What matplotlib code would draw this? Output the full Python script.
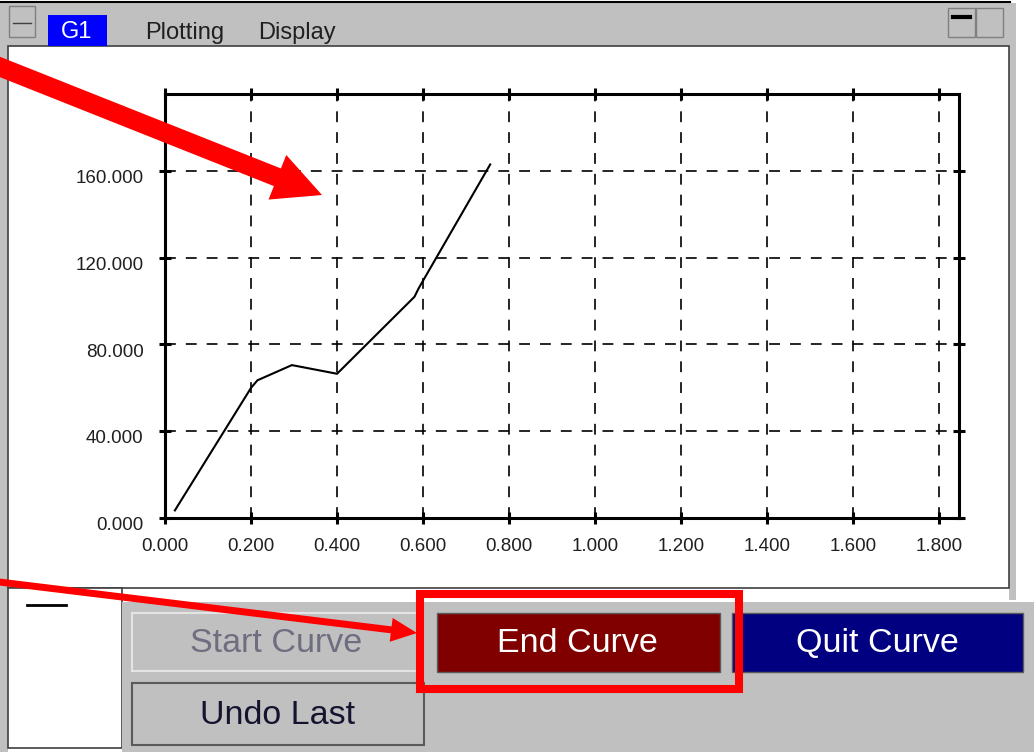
import matplotlib
matplotlib.use("Agg")
import matplotlib.pyplot as plt
import matplotlib.transforms as mtransforms
from matplotlib.patches import Rectangle, FancyArrow

plt.rcParams["font.family"] = ["Liberation Sans", "DejaVu Sans"]

# -- Data ----------------------------------------------------------------------
curve_x = [0.023, 0.200, 0.215, 0.295, 0.400, 0.580, 0.590, 0.756]
curve_y = [3.5, 60.0, 63.5, 70.5, 66.5, 102.0, 106.0, 163.0]

x_ticks = [0.0, 0.2, 0.4, 0.6, 0.8, 1.0, 1.2, 1.4, 1.6, 1.8]
y_ticks = [0.0, 40.0, 80.0, 120.0, 160.0]
x_max = 1.846
y_max = 195.5

menu_items = ["Plotting", "Display"]
button_labels = ["Start Curve", "End Curve", "Quit Curve", "Undo Last"]

W, H = 1034, 752
GRAY = "#c0c0c0"

fig = plt.figure(figsize=(W / 100, H / 100), dpi=100)
fig.patch.set_facecolor("white")


def px_axes(x0, y0, x1, y1, z):
    # axes placed by pixel box (top-left origin)
    return fig.add_axes([x0 / W, 1 - y1 / H, (x1 - x0) / W, (y1 - y0) / H], zorder=z)


# -- Window chrome (pixel coords) ----------------------------------------------
bg = px_axes(0, 0, W, H, 0)
bg.set_xlim(0, W)
bg.set_ylim(H, 0)
bg.axis("off")


def box(x0, y0, x1, y1, fc, ec="none", lw=0, z=1):
    bg.add_patch(Rectangle((x0, y0), x1 - x0, y1 - y0, facecolor=fc,
                           edgecolor=ec, linewidth=lw, zorder=z))


# frame + title bar
bg.plot([0, 1010], [1.5, 1.5], color="black", lw=1.5, zorder=3)
box(0, 3, 1016, 46, GRAY)
box(0, 3, 8, 752, GRAY)
box(1009, 3, 1016, 600, GRAY)
box(8, 46, 1009, 588, "white", ec="#404040", lw=1.2, z=2)
box(8, 588, 122, 748, "white", ec="#404040", lw=1.2, z=2)

# title bar widgets
box(9, 6, 35, 37, GRAY, ec="#808080", lw=1, z=2)
bg.plot([13, 31], [23, 23], color="#404040", lw=1, zorder=3)
box(48, 15, 107, 46, "#0000ff", z=2)
bg.text(77, 32, "G1", color="white", fontsize=17, ha="center", va="center", zorder=3)
bg.text(145, 33, menu_items[0], color="#202020", fontsize=17, ha="left", va="center", zorder=3)
bg.text(258, 33, menu_items[1], color="#202020", fontsize=17, ha="left", va="center", zorder=3)
box(948, 8, 975, 37, GRAY, ec="#808080", lw=1, z=2)
box(976, 8, 1003, 37, GRAY, ec="#808080", lw=1, z=2)
bg.plot([953, 970], [17, 17], color="black", lw=3, zorder=3)

# little dash bottom-left
bg.plot([27, 66], [605, 605], color="black", lw=2, zorder=3)

# bottom button panel
box(122, 602, W, H, GRAY, z=2)
box(132, 613, 418, 671, GRAY, ec="#e4e4e4", lw=1.5, z=3)
box(132, 683, 424, 745, GRAY, ec="#5a5a5a", lw=1.5, z=3)
box(437, 613, 720, 672, "#800000", ec="#5a5a5a", lw=1, z=3)
box(732, 613, 1023, 672, "#000080", ec="#5a5a5a", lw=1, z=3)
btn_style = dict(fontsize=24.5, ha="center", va="center", zorder=4)
bg.text(276, 643, button_labels[0], color="#6e6e80", **btn_style)
bg.text(577, 643, button_labels[1], color="white", **btn_style)
bg.text(877, 643, button_labels[2], color="white", **btn_style)
bg.text(278, 715, button_labels[3], color="#141430", **btn_style)

# -- Plot ----------------------------------------------------------------------
ax = px_axes(165, 94, 959, 518, 1)
ax.set_facecolor("none")
ax.plot(curve_x, curve_y, color="black", lw=1.5, zorder=3)
ax.set_xlim(0, x_max)
ax.set_ylim(0, y_max)
ax.set_xticks(x_ticks)
ax.set_yticks(y_ticks)
ax.set_xticklabels([f"{v:.3f}" for v in x_ticks])
ax.set_yticklabels([f"{v:.3f}" for v in y_ticks])
ax.grid(True, color="black", lw=1.2, linestyle=(0, (6.5, 6)))
for s in ax.spines.values():
    s.set_linewidth(2.2)
ax.tick_params(direction="inout", length=9, width=2.2, labelsize=13.5,
               top=True, right=True, colors="black")
ax.tick_params(axis="x", pad=10)
ax.tick_params(axis="y", pad=11)
# y labels sit a few pixels below their ticks in the original
shift = mtransforms.ScaledTranslation(0, -4 / 72, fig.dpi_scale_trans)
for lab in ax.get_yticklabels():
    lab.set_transform(lab.get_transform() + shift)
for lab in ax.get_xticklabels() + ax.get_yticklabels():
    lab.set_color("#202020")

# -- Red annotations on top ----------------------------------------------------
ov = px_axes(0, 0, W, H, 5)
ov.set_xlim(0, W)
ov.set_ylim(H, 0)
ov.axis("off")
ov.patch.set_alpha(0)

ov.add_patch(FancyArrow(-5, 65, 327, 130, width=19, head_width=48, head_length=48,
                        length_includes_head=True, color="#ff0000", lw=0))
ov.add_patch(FancyArrow(-5, 581.5, 422, 51.5, width=7, head_width=24, head_length=26,
                        length_includes_head=True, color="#ff0000", lw=0))
ov.add_patch(Rectangle((420, 594), 319, 95, facecolor="none", edgecolor="#ff0000",
                       linewidth=5.8))

fig.savefig("out.png", dpi=100)
